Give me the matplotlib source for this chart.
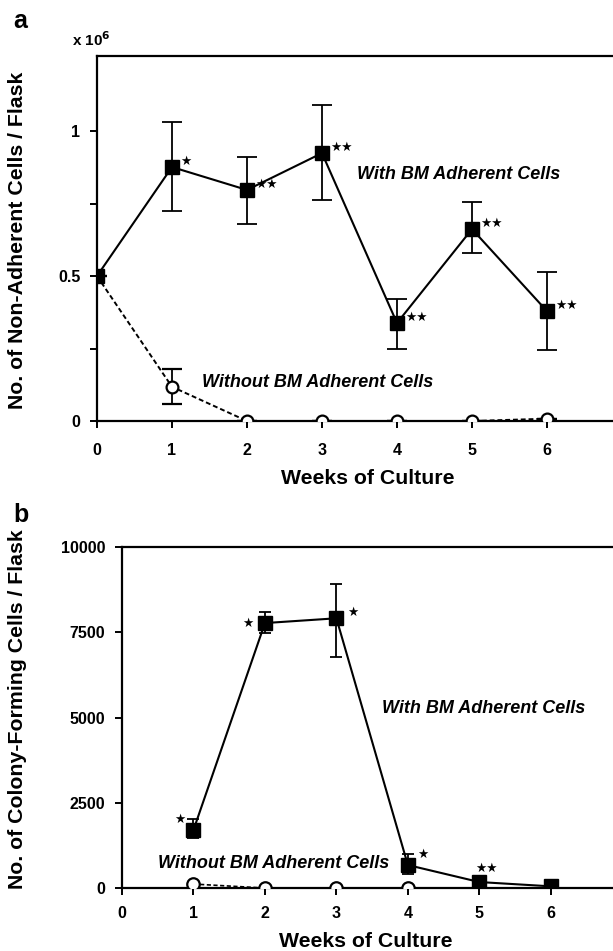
import matplotlib
matplotlib.use("Agg")
import matplotlib.pyplot as plt

plt.rcParams["font.family"] = ["Liberation Sans", "DejaVu Sans"]
plt.rcParams["font.weight"] = "bold"

# panel a: non-adherent cells (x 10^6)
weeks_a = [0, 1, 2, 3, 4, 5, 6]
with_a = [0.50, 0.876, 0.797, 0.924, 0.338, 0.662, 0.379]
with_a_lo = [0.0, 0.152, 0.117, 0.162, 0.088, 0.082, 0.134]
with_a_hi = [0.0, 0.154, 0.113, 0.166, 0.082, 0.093, 0.135]
stars_a = ["", "★", "★★", "★★", "★★", "★★", "★★"]
without_a = [0.50, 0.118, 0.0, 0.0, 0.0, 0.0, 0.008]
without_a_lo = [0.0, 0.058, 0, 0, 0, 0, 0]
without_a_hi = [0.0, 0.062, 0, 0, 0, 0, 0]

# panel b: colony-forming cells
weeks_b = [1, 2, 3, 4, 5, 6]
with_b = [1700, 7770, 7910, 674, 176, 50]
with_b_lo = [235, 300, 1140, 264, 0, 0]
with_b_hi = [320, 320, 1000, 326, 0, 0]
stars_b = ["★", "★", "★", "★", "★★", ""]
without_b = [117, 0, 0, 0, 0, 0]

fig = plt.figure(figsize=(6.13, 9.51), dpi=100)


def style_axes(ax, xpad):
    ax.spines["right"].set_visible(False)
    for s in ["left", "top", "bottom"]:
        ax.spines[s].set_linewidth(1.6)
    ax.tick_params(direction="out", length=5, width=1.4, labelsize=11.5, pad=7)
    ax.tick_params(axis="x", pad=xpad)
    for lab in ax.get_xticklabels() + ax.get_yticklabels():
        lab.set_fontweight("bold")


note_kw = dict(fontsize=13, fontweight="bold", fontstyle="italic", va="center")
label_kw = dict(fontsize=15.3, fontweight="bold")
star_kw = dict(fontsize=9, family="DejaVu Sans", va="center", textcoords="offset points")

# ---- panel a
ax1 = fig.add_axes([0.1582, 0.5573, 0.8418, 0.3838])
ax1.errorbar(weeks_a, without_a, yerr=[without_a_lo, without_a_hi], color="black",
             ls=(0, (2.5, 1.5)), lw=1.4, marker="o", ms=8.5, mfc="white", mec="black",
             mew=1.6, capsize=7, elinewidth=1.3, capthick=1.3, zorder=3)
ax1.errorbar(weeks_a, with_a, yerr=[with_a_lo, with_a_hi], color="black", lw=1.5,
             marker="s", ms=10.5, mfc="black", capsize=7, elinewidth=1.3, capthick=1.3,
             zorder=4)
for x, y, s in zip(weeks_a, with_a, stars_a):
    if s:
        ax1.annotate(s, (x, y), xytext=(6, 4), ha="left", **star_kw)
ax1.set_xlim(0, 6.88)
ax1.set_ylim(0, 1.259)
ax1.set_xticks(weeks_a)
ax1.set_yticks([0, 0.25, 0.5, 0.75, 1.0])
ax1.set_yticklabels(["0", "", "0.5", "", "1"])
style_axes(ax1, 11)
ax1.text(3.47, 0.85, "With BM Adherent Cells", **note_kw)
ax1.text(1.4, 0.134, "Without BM Adherent Cells", **note_kw)
ax1.set_xlabel("Weeks of Culture", **label_kw)
ax1.set_ylabel("No. of Non-Adherent Cells / Flask", **label_kw)
ax1.xaxis.set_label_coords(0.525, -0.132)
ax1.yaxis.set_label_coords(-0.136, 0.496)
fig.text(0.117, 0.958, "x 10$^{\\mathbf{6}}$", fontsize=11, fontweight="bold", va="center")
fig.text(0.022, 0.978, "a", fontsize=18, fontweight="bold", va="center")

# ---- panel b
ax2 = fig.add_axes([0.199, 0.0662, 0.801, 0.3586])
ax2.plot(weeks_b, without_b, color="black", ls=(0, (2.5, 1.5)), lw=1.2, marker="o",
         ms=9, mfc="white", mec="black", mew=1.6, zorder=3)
ax2.errorbar(weeks_b, with_b, yerr=[with_b_lo, with_b_hi], color="black", lw=1.5,
             marker="s", ms=10.5, mfc="black", capsize=4.5, elinewidth=1.3, capthick=1.3,
             zorder=4)
star_offsets = [(-10, 8), (-12, 0), (12, 4), (11, 8), (5, 10), (0, 0)]
for x, y, s, off in zip(weeks_b, with_b, stars_b, star_offsets):
    if s:
        ax2.annotate(s, (x, y), xytext=off, ha="center", **star_kw)
ax2.set_xlim(0, 6.87)
ax2.set_ylim(0, 10000)
ax2.set_xticks([0, 1, 2, 3, 4, 5, 6])
ax2.set_yticks([0, 2500, 5000, 7500, 10000])
style_axes(ax2, 8)
ax2.text(3.64, 5275, "With BM Adherent Cells", **note_kw)
ax2.text(0.5, 733, "Without BM Adherent Cells", **note_kw)
ax2.set_xlabel("Weeks of Culture", **label_kw)
ax2.set_ylabel("No. of Colony-Forming Cells / Flask", **label_kw)
ax2.xaxis.set_label_coords(0.497, -0.128)
ax2.yaxis.set_label_coords(-0.193, 0.525)
fig.text(0.022, 0.458, "b", fontsize=18, fontweight="bold", va="center")

fig.savefig("out.png", dpi=100)
